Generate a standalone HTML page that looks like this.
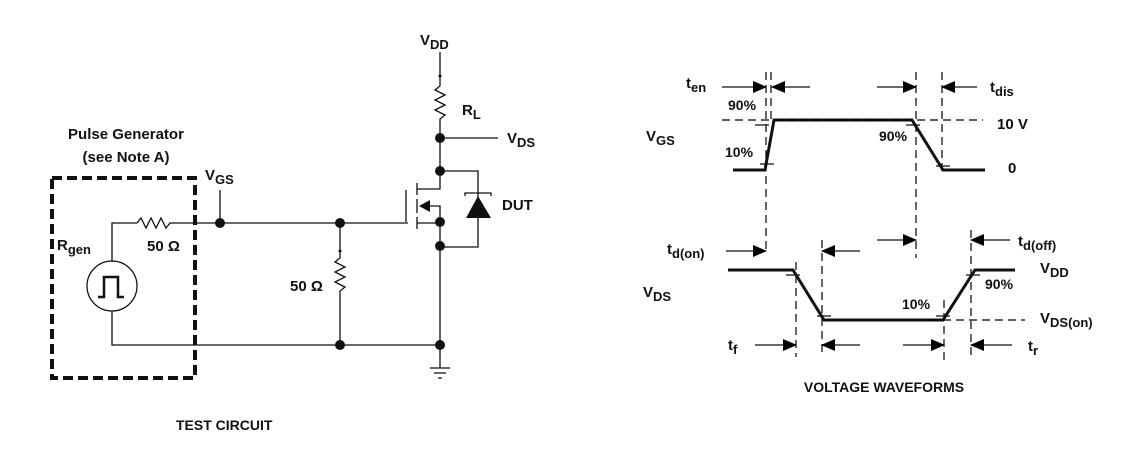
<!DOCTYPE html>
<html><head><style>
html,body{margin:0;padding:0;background:#fff}
svg{display:block}
text{font-family:"Liberation Sans",sans-serif;font-weight:bold;fill:#111}
</style></head><body>
<svg width="1148" height="456" viewBox="0 0 1148 456" xmlns="http://www.w3.org/2000/svg">
<defs>
<marker id="ar" markerWidth="14" markerHeight="12" refX="13" refY="6" orient="auto" markerUnits="userSpaceOnUse"><path d="M0,0 L14,6 L0,12z" fill="#000"/></marker>
</defs>
<g stroke="#111" stroke-width="1.3" fill="none">
<rect x="52" y="178" width="143" height="200" stroke-width="4" stroke-dasharray="10,5"/>
<path d="M112,262 V223 H137"/>
<path d="M137,223 l4,-5 l5,10 l5,-10 l5,10 l5,-10 l5,10 l4,-5 H408"/>
<path d="M220,223 V190"/>
<circle cx="112" cy="286" r="25"/>
<path d="M112,311 V345 H440"/>
<path d="M98,297 h6 v-20 h14 v20 h6" stroke-width="2.5"/>
<path d="M340,223 V258 l-5,4 l10,5 l-10,5 l10,5 l-10,5 l10,5 l-5,4 V345"/>
<path d="M406,190 V222"/>
<path d="M417,183 V195 M417,199 V213 M417,217 V229"/>
<path d="M417,189 H440 V171 M440,171 H478 V247 H440"/>
<path d="M417,223 H440 M430,206 H440 V222"/>
<path d="M440,52 V86 l-5,4 l10,5 l-10,5 l10,5 l-10,5 l10,5 l-5,4 V138 H498 M440,138 V171 M440,222 V368"/>
<path d="M430,368 h20 M434,373 h12 M438,378 h4"/>
<path d="M465,196 V193 H491 V196"/>
<path d="M733,170 H765 L774,120 H912 L943,170 H985" stroke-width="3"/>
<path d="M728,270 H793 L824,320 H943 L975,270 H1015" stroke-width="3"/>
<g stroke-dasharray="8,5" stroke-width="1.2" stroke="#000">
<path d="M722,120 H983"/>
<path d="M930,320 H1025"/>
<path d="M766,72 V253"/>
<path d="M771,72 V120"/>
<path d="M916,72 V258"/>
<path d="M942,72 V172"/>
<path d="M796,262 V357"/>
<path d="M822,240 V357"/>
<path d="M944,300 V362"/>
<path d="M971,230 V357"/>
</g>
<path d="M755,125 h14 M760,164 h14 M906,125 h14 M936,166 h14 M786,275 h14 M817,316 h14 M936,316 h14 M966,275 h14"/>
<g marker-end="url(#ar)">
<path d="M722,87 H766"/><path d="M810,87 H772"/>
<path d="M877,87 H916"/><path d="M977,87 H942"/>
<path d="M726,251 H766"/><path d="M860,251 H822"/>
<path d="M877,240 H916"/><path d="M1010,240 H971"/>
<path d="M755,345 H796"/><path d="M860,345 H822"/>
<path d="M903,345 H944"/><path d="M1012,345 H971"/>
</g>
</g>
<g fill="#111">
<circle cx="220" cy="223" r="5"/><circle cx="340" cy="223" r="5"/><circle cx="340" cy="345" r="5"/>
<circle cx="440" cy="138" r="5"/><circle cx="440" cy="171" r="5"/><circle cx="440" cy="222" r="5"/>
<circle cx="440" cy="246" r="5"/><circle cx="440" cy="345" r="5"/>
<circle cx="340" cy="251" r="1.5"/><circle cx="440" cy="76" r="1.5"/>
<path d="M419,206 L430,200 L430,212z"/>
<path d="M478,196 L466,218 L491,218z"/>
</g>
<g font-size="15">
<text x="126" y="139" text-anchor="middle">Pulse Generator</text>
<text x="126" y="162" text-anchor="middle">(see Note A)</text>
<text x="205" y="180">V<tspan font-size="13" dy="4">GS</tspan></text>
<text x="57" y="250">R<tspan font-size="13" dy="4">gen</tspan></text>
<text x="147" y="251">50 Ω</text>
<text x="290" y="291">50 Ω</text>
<text x="420" y="45">V<tspan font-size="13" dy="4">DD</tspan></text>
<text x="462" y="115">R<tspan font-size="13" dy="4">L</tspan></text>
<text x="507" y="143">V<tspan font-size="13" dy="4">DS</tspan></text>
<text x="502" y="210">DUT</text>
<text x="176" y="430" font-size="14">TEST CIRCUIT</text>
<text x="646" y="141">V<tspan font-size="13" dy="4">GS</tspan></text>
<text x="643" y="297">V<tspan font-size="13" dy="4">DS</tspan></text>
<text x="686" y="88">t<tspan font-size="13" dy="4">en</tspan></text>
<text x="990" y="92">t<tspan font-size="13" dy="4">dis</tspan></text>
<text x="728" y="110" font-weight="normal" font-size="14">90%</text>
<text x="725" y="157" font-weight="normal" font-size="14">10%</text>
<text x="879" y="141" font-weight="normal" font-size="14">90%</text>
<text x="997" y="129">10 V</text>
<text x="1008" y="173">0</text>
<text x="667" y="254">t<tspan font-size="13" dy="4">d(on)</tspan></text>
<text x="1018" y="246">t<tspan font-size="13" dy="4">d(off)</tspan></text>
<text x="1040" y="273">V<tspan font-size="13" dy="4">DD</tspan></text>
<text x="1040" y="323">V<tspan font-size="13" dy="4">DS(on)</tspan></text>
<text x="985" y="289" font-weight="normal" font-size="14">90%</text>
<text x="902" y="309" font-weight="normal" font-size="14">10%</text>
<text x="728" y="350">t<tspan font-size="13" dy="4">f</tspan></text>
<text x="1028" y="351">t<tspan font-size="13" dy="4">r</tspan></text>
<text x="884" y="392" font-size="14" text-anchor="middle">VOLTAGE WAVEFORMS</text>
</g>
</svg>
</body></html>
